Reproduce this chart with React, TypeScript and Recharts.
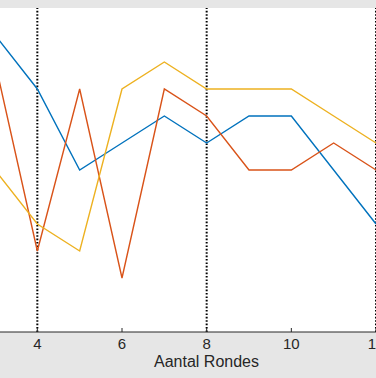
import { LineChart, Line, XAxis, YAxis, ReferenceLine, CartesianGrid } from "recharts";

// rounds shown on the x axis (the plot starts just left of the crop)
const rounds = [3, 4, 5, 6, 7, 8, 9, 10, 11, 12];
const blueSeries = [11, 9, 6, 7, 8, 7, 8, 8, 6, 4];
const redSeries = [10, 3, 9, 2, 9, 8, 6, 6, 7, 6];
const yellowSeries = [6, 4, 3, 9, 10, 9, 9, 9, 8, 7];
const xTicks = [4, 6, 8, 10, 12];
const markedRounds = [4, 8, 12];

const data = rounds.map((r, i) => ({
  ronde: r,
  a: blueSeries[i],
  b: redSeries[i],
  c: yellowSeries[i],
}));

const FONT = "'Liberation Sans', Arial, Helvetica, sans-serif";
const AXIS_COLOR = "#262626";

export default function App() {
  return (
    <div
      style={{
        position: "fixed",
        top: 0,
        left: 0,
        width: 376,
        height: 378,
        overflow: "hidden",
        background: "#e6e6e6",
        fontFamily: FONT,
      }}
    >
      <div style={{ position: "absolute", left: -5, top: 0 }}>
        <LineChart
          width={381}
          height={378}
          data={data}
          margin={{ top: 8, right: 0, left: 0, bottom: 0 }}
          style={{ overflow: "visible" }}
        >
          <CartesianGrid horizontal={false} vertical={false} fill="#ffffff" />
          <XAxis
            dataKey="ronde"
            type="number"
            domain={[3, 12]}
            ticks={xTicks}
            interval={0}
            height={46}
            tickSize={-4}
            tickMargin={10}
            stroke={AXIS_COLOR}
            tick={{ fontSize: 15, fill: AXIS_COLOR, fontFamily: FONT }}
            label={{
              value: "Aantal Rondes",
              position: "insideBottom",
              offset: 11,
              dx: 21,
              fontSize: 16,
              fill: AXIS_COLOR,
              fontFamily: FONT,
            }}
          />
          <XAxis
            xAxisId="top"
            orientation="top"
            dataKey="ronde"
            type="number"
            domain={[3, 12]}
            ticks={xTicks}
            interval={0}
            height={0}
            tickSize={-4}
            tick={false}
            stroke={AXIS_COLOR}
          />
          <YAxis hide type="number" domain={[0, 12]} />
          {markedRounds.map((r) => (
            <ReferenceLine
              key={r}
              x={r}
              stroke="#000"
              strokeWidth={2}
              strokeDasharray="1.6 1.8"
            />
          ))}
          <Line dataKey="a" stroke="#0072BD" strokeWidth={1.4} dot={false} isAnimationActive={false} />
          <Line dataKey="b" stroke="#D95319" strokeWidth={1.4} dot={false} isAnimationActive={false} />
          <Line dataKey="c" stroke="#EDB120" strokeWidth={1.4} dot={false} isAnimationActive={false} />
        </LineChart>
      </div>
    </div>
  );
}
